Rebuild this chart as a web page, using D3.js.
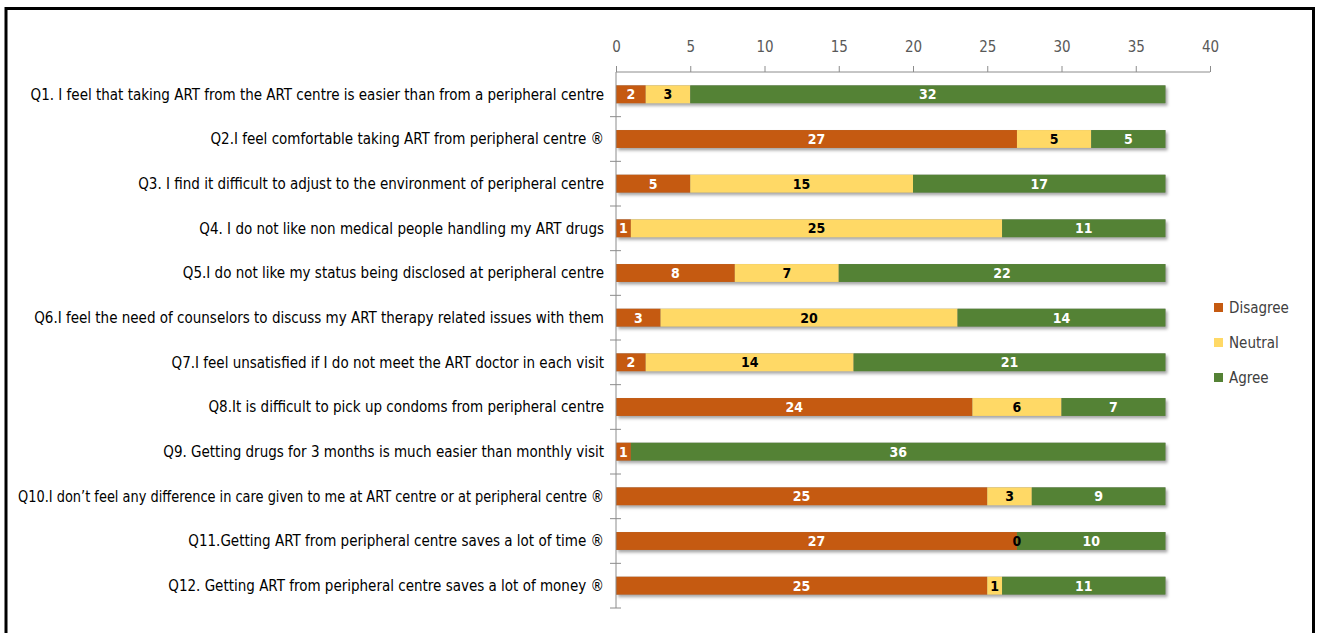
<!DOCTYPE html>
<html>
<head>
<meta charset="utf-8">
<script src="https://cdn.jsdelivr.net/npm/d3@7/dist/d3.min.js"></script>
<style>
  html, body { margin: 0; padding: 0; background: #fff; }
  svg { display: block; }
</style>
</head>
<body>
<svg id="chart" width="1317" height="633"></svg>
<script>
// Survey statements (one bar per statement)
const questions = [
  "Q1. I feel that taking ART from the ART centre is easier than from a peripheral centre",
  "Q2.I feel comfortable taking ART from peripheral centre \u00AE",
  "Q3. I find it difficult to adjust to the environment of peripheral centre",
  "Q4. I do not like non medical people handling my ART drugs",
  "Q5.I do not like my status being disclosed at peripheral centre",
  "Q6.I feel the need of counselors to discuss my ART therapy related issues with them",
  "Q7.I feel unsatisfied if I do not meet the ART doctor in each visit",
  "Q8.It is difficult to pick up condoms from peripheral centre",
  "Q9. Getting drugs for 3 months is much easier than monthly visit",
  "Q10.I don\u2019t feel any difference in care given to me at ART centre or at peripheral centre \u00AE",
  "Q11.Getting ART from peripheral centre saves a lot of time \u00AE",
  "Q12. Getting ART from peripheral centre saves a lot of money \u00AE"
];

const seriesNames = ["Disagree", "Neutral", "Agree"];

// Response counts per statement
const disagree = [2, 27, 5, 1, 8, 3, 2, 24, 1, 25, 27, 25];
const neutral  = [3, 5, 15, 25, 7, 20, 14, 6, null, 3, 0, 1];
const agree    = [32, 5, 17, 11, 22, 14, 21, 7, 36, 9, 10, 11];

const xTicks = [0, 5, 10, 15, 20, 25, 30, 35, 40];

const colors = { Disagree: "#C55A11", Neutral: "#FFD966", Agree: "#548235" };
const labelColors = { Disagree: "#ffffff", Neutral: "#000000", Agree: "#ffffff" };
const FONT = "'Liberation Sans Narrow', 'DejaVu Sans Condensed', sans-serif";

const svg = d3.select("#chart");

// Outer frame
svg.append("rect")
  .attr("x", 6).attr("y", 8.5)
  .attr("width", 1307.5).attr("height", 700)
  .attr("fill", "none").attr("stroke", "#000").attr("stroke-width", 3);

const plot = { left: 616, right: 1210, top: 72, bottom: 608 };

const x = d3.scaleLinear().domain([0, 40]).range([plot.left, plot.right]);
const y = d3.scaleBand().domain(questions).range([plot.top, plot.bottom])
  .paddingInner(0.6).paddingOuter(0.3);

// Drop shadow under the bars
const defs = svg.append("defs");
const f = defs.append("filter").attr("id", "shadow")
  .attr("x", "-5%").attr("y", "-40%").attr("width", "110%").attr("height", "200%");
f.append("feDropShadow").attr("dx", 2).attr("dy", 2.5).attr("stdDeviation", 1.6)
  .attr("flood-color", "#000").attr("flood-opacity", 0.35);

// Stack the three series
const rows = questions.map((q, i) => ({
  q, Disagree: disagree[i], Neutral: neutral[i], Agree: agree[i]
}));
const stack = d3.stack().keys(seriesNames).value((d, k) => d[k] || 0);
const stacked = stack(rows);

// Shadow layer: one rect per whole bar
svg.append("g").selectAll("rect")
  .data(rows)
  .join("rect")
  .attr("x", x(0))
  .attr("y", d => y(d.q))
  .attr("width", d => x(d.Disagree + (d.Neutral || 0) + d.Agree) - x(0))
  .attr("height", y.bandwidth())
  .attr("fill", "#888")
  .attr("filter", "url(#shadow)");

const segments = stacked.flatMap(layer => layer.map(s => ({ key: layer.key, s })));

svg.append("g").selectAll("rect")
  .data(segments)
  .join("rect")
  .attr("fill", d => colors[d.key])
  .attr("x", d => x(d.s[0]))
  .attr("y", d => y(d.s.data.q))
  .attr("width", d => x(d.s[1]) - x(d.s[0]))
  .attr("height", y.bandwidth());

// Value labels, drawn above every segment
svg.append("g").selectAll("text")
  .data(segments.filter(d => d.s.data[d.key] !== null))
  .join("text")
  .attr("x", d => (x(d.s[0]) + x(d.s[1])) / 2)
  .attr("y", d => y(d.s.data.q) + y.bandwidth() / 2)
  .attr("dy", "0.36em")
  .attr("text-anchor", "middle")
  .attr("fill", d => labelColors[d.key])
  .attr("font-family", FONT)
  .attr("font-weight", "bold")
  .attr("font-size", 14)
  .text(d => d.s.data[d.key]);

// Top value axis
const xAxis = svg.append("g")
  .attr("transform", `translate(0,${plot.top})`)
  .call(d3.axisTop(x).tickValues(xTicks).tickSize(6).tickPadding(14));
xAxis.select(".domain").attr("stroke", "#8c8c8c").attr("d", `M${plot.left},0H${plot.right}`);
xAxis.selectAll(".tick line").attr("stroke", "#8c8c8c");
xAxis.selectAll(".tick text")
  .attr("fill", "#595959")
  .attr("font-family", FONT)
  .attr("font-size", 15);

// Category axis line with cross tick marks between bands
const yAxisG = svg.append("g");
yAxisG.append("line")
  .attr("x1", plot.left).attr("x2", plot.left)
  .attr("y1", plot.top).attr("y2", plot.bottom)
  .attr("stroke", "#8c8c8c");
const bounds = questions.map(q => y(q) - (y.step() - y.bandwidth()) / 2).slice(1)
  .concat([plot.bottom]);
yAxisG.selectAll("line.tk")
  .data(bounds)
  .join("line")
  .attr("class", "tk")
  .attr("x1", plot.left - 6).attr("x2", plot.left + 5)
  .attr("y1", d => d).attr("y2", d => d)
  .attr("stroke", "#8c8c8c");

// Category labels; long ones are squeezed to fit inside the frame
const maxLabelWidth = 586;
svg.append("g").selectAll("text")
  .data(questions)
  .join("text")
  .attr("x", plot.left - 12)
  .attr("y", d => y(d) + y.bandwidth() / 2)
  .attr("dy", "0.35em")
  .attr("text-anchor", "end")
  .attr("fill", "#000")
  .attr("font-family", FONT)
  .attr("font-size", 15)
  .text(d => d)
  .each(function () {
    const w = this.getComputedTextLength();
    if (w > maxLabelWidth) {
      d3.select(this)
        .attr("textLength", maxLabelWidth)
        .attr("lengthAdjust", "spacingAndGlyphs");
    }
  });

// Legend
const legend = svg.append("g").selectAll("g")
  .data(seriesNames)
  .join("g")
  .attr("transform", (d, i) => `translate(1214,${303 + i * 35})`);
legend.append("rect")
  .attr("width", 9).attr("height", 9)
  .attr("fill", d => colors[d]);
legend.append("text")
  .attr("x", 15).attr("y", 4.5).attr("dy", "0.36em")
  .attr("fill", "#404040")
  .attr("font-family", FONT)
  .attr("font-size", 15)
  .text(d => d);
</script>
</body>
</html>
